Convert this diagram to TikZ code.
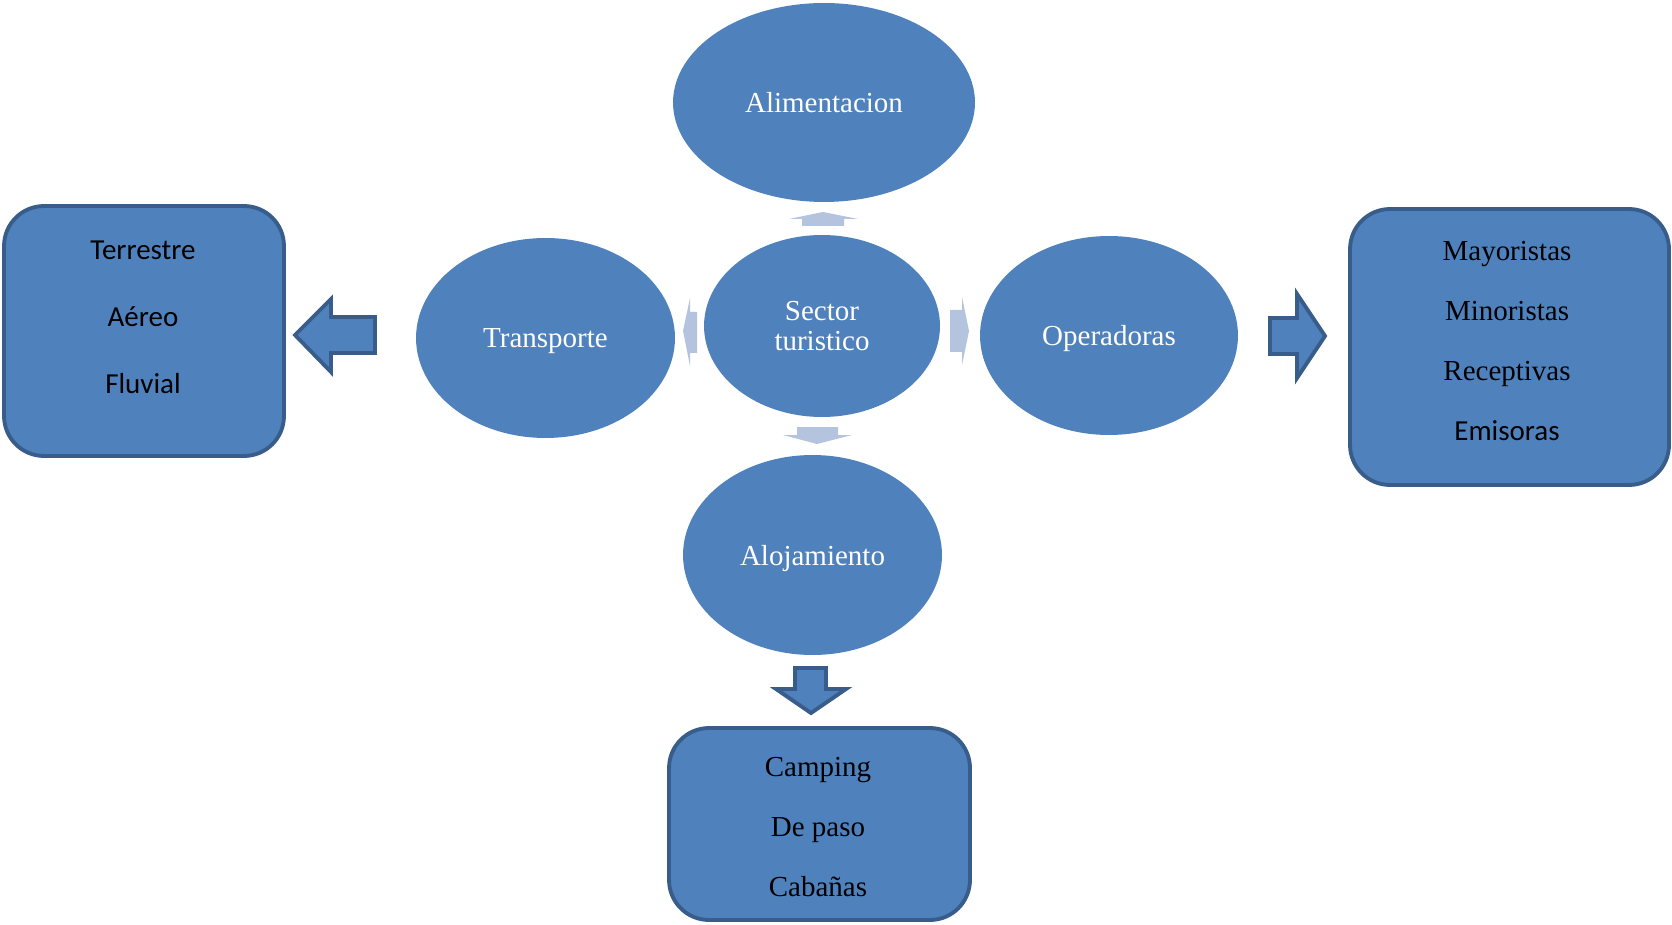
\documentclass[tikz,border=0pt]{standalone}
\usepackage{fontspec}
\setmainfont{Liberation Serif}
\newfontfamily\calibrifont{Carlito}
\usetikzlibrary{shapes.geometric}
\definecolor{accentblue}{RGB}{79,129,189}
\definecolor{edgeblue}{RGB}{56,93,138}
\definecolor{paleblue}{RGB}{180,195,222}

\begin{document}
\begin{tikzpicture}[
		x=0.02cm, y=-0.02cm,
		every node/.style={font=\fontsize{16.5}{17.5}\selectfont, inner sep=0pt},
		oval/.style={ellipse, fill=accentblue, text=white, align=center, text depth=0pt},
		listbox/.style={rectangle, rounded corners=0.8cm, draw=edgeblue, line width=2.2pt, fill=accentblue},
		itemtext/.style={anchor=base, text=black},
		bigarrow/.style={draw=edgeblue, line width=2.2pt, fill=accentblue, line join=miter},
		smallarrow/.style={fill=paleblue}
		]
		\useasboundingbox (0,0) rectangle (1672,925);
		
		\node[oval, minimum width=6.04cm, minimum height=3.98cm] (alim) at (824,102.5) {Alimentacion};
		\node[oval, minimum width=4.72cm, minimum height=3.64cm] (sector) at (822,326) {Sector\\turistico};
		\node[oval, minimum width=5.18cm, minimum height=4.0cm] (transp) at (545.5,338) {Transporte};
		\node[oval, minimum width=5.16cm, minimum height=3.98cm] (operad) at (1109,335.5) {Operadoras};
		\node[oval, minimum width=5.18cm, minimum height=4.0cm] (aloj) at (812.5,555) {Alojamiento};
		
		\fill[smallarrow] (802,226) -- (802,219) -- (789,219) -- (823,212) -- (858,219) -- (844,219) -- (844,226) -- cycle;
		\fill[smallarrow] (697,312) -- (690,312) -- (690,298) -- (683,331) -- (690,366) -- (690,353) -- (697,353) -- cycle;
		\fill[smallarrow] (950,310) -- (962,310) -- (962,297) -- (969,331) -- (962,365) -- (962,352) -- (950,352) -- cycle;
		\fill[smallarrow] (797,427) -- (838,427) -- (838,435) -- (852,435) -- (817,444) -- (783,435) -- (797,435) -- cycle;
		
		\node[listbox, minimum width=5.6cm, minimum height=5.0cm] (transpbox) at (144,331) {};
		\node[listbox, minimum width=6.38cm, minimum height=5.52cm] (operadbox) at (1509.5,347) {};
		\node[listbox, minimum width=6.02cm, minimum height=3.84cm] (alojbox) at (819.5,824) {};
		
		\draw[bigarrow] (295,335) -- (331,299) -- (331,317) -- (375,317) -- (375,353) -- (331,353) -- (331,372) -- cycle;
		\draw[bigarrow] (1270,318) -- (1297,318) -- (1297,294) -- (1325,336) -- (1297,378) -- (1297,354) -- (1270,354) -- cycle;
		\draw[bigarrow] (795,668) -- (826,668) -- (826,689) -- (846,689) -- (811,713) -- (776,689) -- (795,689) -- cycle;
		
		\foreach \t [count=\i] in {Terrestre,Aéreo,Fluvial}
			\node[itemtext, font=\fontsize{16.5}{17.5}\calibrifont] (tr\i) at (143,{260+67*(\i-1)}) {\t};
		\foreach \t [count=\i] in {Mayoristas,Minoristas,Receptivas}
			\node[itemtext] (op\i) at (1507,{260.7+60*(\i-1)}) {\t};
		\node[itemtext, font=\fontsize{16.5}{17.5}\calibrifont] (op4) at (1507,440.7) {Emisoras};
		\foreach \t [count=\i] in {Camping,De paso,Cabañas}
			\node[itemtext] (al\i) at (818,{776+60*(\i-1)}) {\t};
\end{tikzpicture}
\end{document}
